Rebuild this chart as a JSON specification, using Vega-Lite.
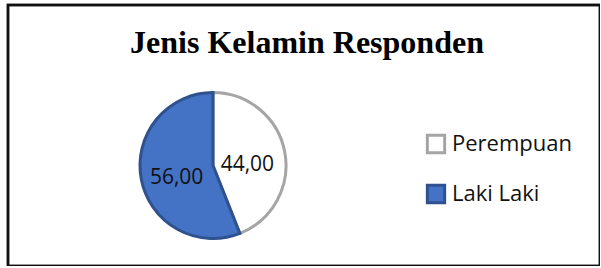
{
  "$schema": "https://vega.github.io/schema/vega-lite/v6.json",
  "width": 592,
  "height": 261,
  "autosize": {"type": "none"},
  "padding": {"left": 8, "top": 5, "right": 0, "bottom": 0},
  "background": "white",
  "title": {
    "text": "Jenis Kelamin Responden",
    "font": "Liberation Serif",
    "fontSize": 32,
    "fontWeight": "bold",
    "color": "#000000",
    "anchor": "middle",
    "baseline": "alphabetic",
    "offset": -50,
    "dx": 3,
    "dy": 31
  },
  "data": {
    "values": [
      {"kelamin": "Perempuan", "persen": 44, "label": "44,00"},
      {"kelamin": "Laki Laki", "persen": 56, "label": "56,00"}
    ]
  },
  "layer": [
    {
      "mark": {"type": "rect", "fill": null, "stroke": "#111111", "strokeWidth": 2.5},
      "encoding": {}
    },
    {
      "mark": {"type": "arc", "radius": 73, "strokeWidth": 3, "xOffset": -91, "yOffset": 30},
      "encoding": {
        "theta": {"field": "persen", "type": "quantitative", "stack": true},
        "order": {"field": "kelamin", "sort": "descending"},
        "fill": {
          "field": "kelamin",
          "type": "nominal",
          "scale": {"domain": ["Perempuan", "Laki Laki"], "range": ["#ffffff", "#4472c4"]},
          "legend": {
            "title": null,
            "orient": "none",
            "legendX": 417,
            "legendY": 128,
            "symbolType": "square",
            "symbolSize": 300,
            "symbolStrokeWidth": 3,
            "labelFont": "Open Sans",
            "labelFontSize": 22,
            "labelColor": "#111111",
            "labelOffset": 5,
            "rowPadding": 20
          }
        },
        "stroke": {
          "field": "kelamin",
          "type": "nominal",
          "scale": {"domain": ["Perempuan", "Laki Laki"], "range": ["#a5a5a5", "#2f528f"]},
          "legend": null
        }
      }
    },
    {
      "mark": {"type": "text", "radius": 36, "font": "Open Sans", "fontSize": 21, "color": "#111111", "xOffset": -92, "yOffset": 36},
      "encoding": {
        "theta": {"field": "persen", "type": "quantitative", "stack": true},
        "order": {"field": "kelamin", "sort": "descending"},
        "text": {"field": "label", "type": "nominal"}
      }
    }
  ]
}
